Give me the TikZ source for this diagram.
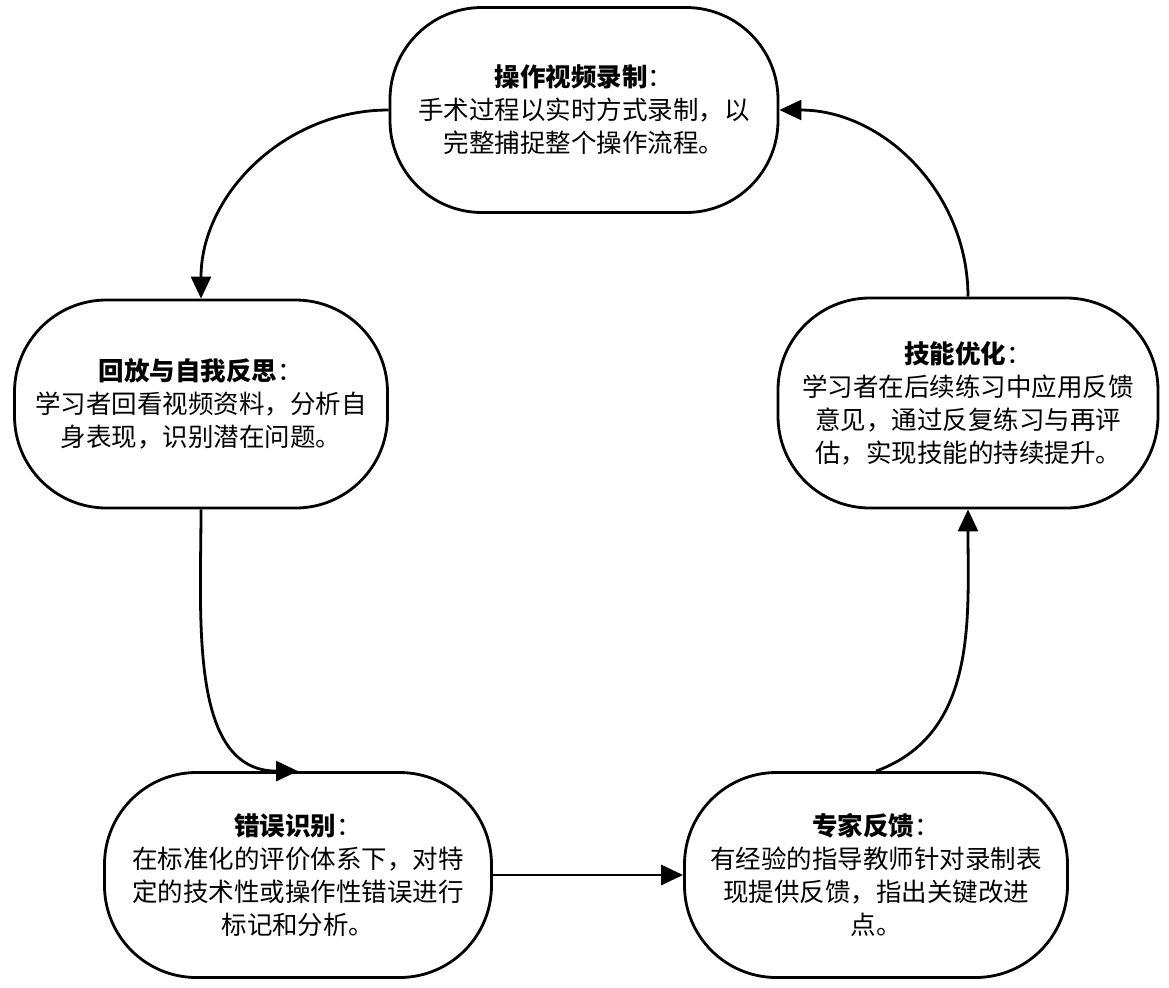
\documentclass[tikz,border=0pt]{standalone}
\usepackage{fontspec}
\newfontfamily\cjk{Noto Sans CJK SC}
\usetikzlibrary{arrows.meta}

\begin{document}
\begin{tikzpicture}[x=0.5pt,y=-0.5pt,
  every node/.style={font=\cjk\fontsize{12.75}{16.5}\selectfont},
  stage/.style={draw, line width=1.4pt, rounded corners=46pt, align=center, inner sep=0pt},
  flow/.style={-{Triangle[length=11pt,width=10pt]}, line width=1.4pt}]
\useasboundingbox (0,0) rectangle (1169,987);
% stages of the loop
\node[stage, minimum width=194pt, minimum height=102.5pt] (record) at (584,110)
  {\textbf{操作视频录制}：\\手术过程以实时方式录制，以\\完整捕捉整个操作流程。};
\node[stage, minimum width=186.5pt, minimum height=104pt] (review) at (201,404)
  {\textbf{回放与自我反思}：\\学习者回看视频资料，分析自\\身表现，识别潜在问题。};
\node[stage, minimum width=193.5pt, minimum height=102.5pt] (errors) at (298,875)
  {\textbf{错误识别}：\\在标准化的评价体系下，对特\\定的技术性或操作性错误进行\\标记和分析。};
\node[stage, minimum width=191.5pt, minimum height=102.5pt] (expert) at (876,875)
  {\textbf{专家反馈}：\\有经验的指导教师针对录制表\\现提供反馈，指出关键改进\\点。};
\node[stage, minimum width=190pt, minimum height=105pt] (refine) at (968,403)
  {\textbf{技能优化}：\\学习者在后续练习中应用反馈\\意见，通过反复练习与再评\\估，实现技能的持续提升。};
% connectors
\draw[flow] (record.west) to[out=180,in=90] (review.north);
\draw[flow] (review.south) to[out=-90,in=180] (errors.north);
\draw[flow] (errors.east) -- (expert.west);
\draw[flow] (expert.north) to[out=20,in=-90] (refine.south);
\draw[flow] (refine.north) to[out=90,in=0] (record.east);
\end{tikzpicture}
\end{document}
